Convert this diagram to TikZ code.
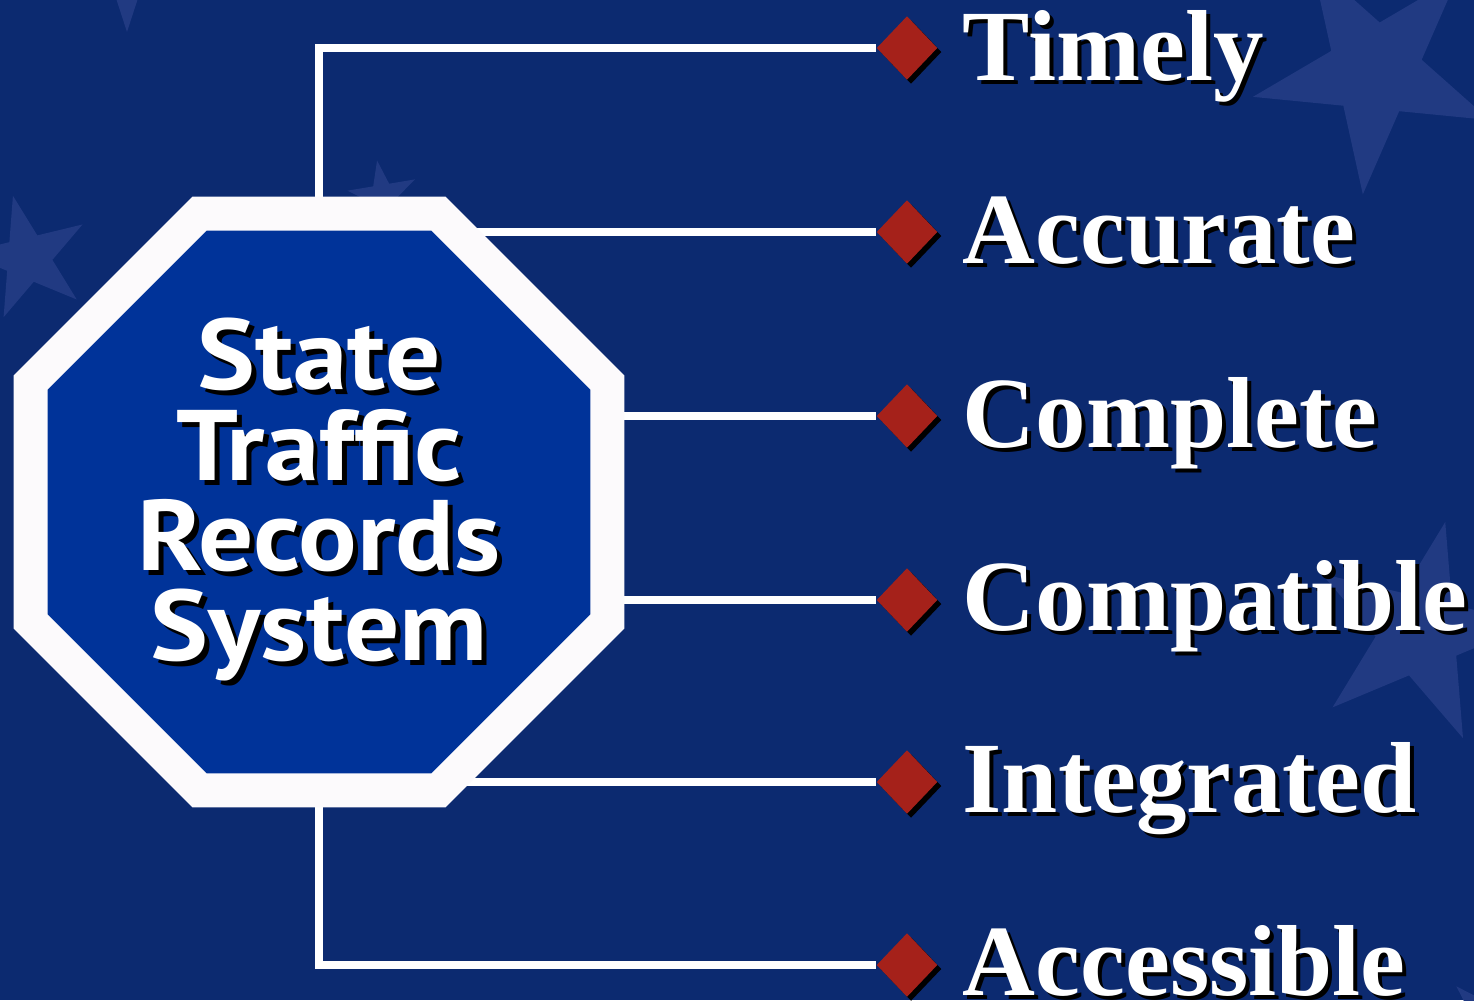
\documentclass[tikz,border=0pt]{standalone}
\usepackage{fontspec}
\usetikzlibrary{shapes.geometric,shadows}
\newfontfamily\timesbold{Liberation Serif}
\newfontfamily\signfont[FakeStretch=1.09]{PT Sans}
\definecolor{bgblue}{RGB}{12,42,112}
\definecolor{starblue}{RGB}{33,58,130}
\definecolor{octblue}{RGB}{0,51,153}
\definecolor{ringwhite}{RGB}{252,250,252}
\definecolor{dotred}{RGB}{165,33,26}
\pgfdeclarelayer{bg}
\pgfdeclarelayer{wires}
\pgfsetlayers{bg,wires,main}
\newcommand{\shadowed}[2][0.04cm]{\leavevmode\rlap{\kern#1\raisebox{-#1}{\color{black}#2}}#2}
\newcommand{\flagstar}[3]{\fill[starblue,shift={(#1)}] (#3:#2)
  \foreach \k in {1,...,9}{ -- ({#3+36*\k}:{#2*(0.691+0.309*cos(180*\k))}) } -- cycle;}

\begin{document}
\begin{tikzpicture}[x=0.01cm,y=-0.01cm,
  wire/.style={draw=white,line width=0.075cm},
  bullet/.style={diamond,fill=dotred,minimum width=0.61cm,minimum height=0.64cm,inner sep=0pt,
    drop shadow={shadow xshift=0.04cm,shadow yshift=-0.04cm,fill=black,opacity=1}},
  quality/.style={anchor=base west,inner sep=0pt,text=white,
    font=\timesbold\bfseries\fontsize{28.7}{30}\selectfont},
  sign/.style={regular polygon,regular polygon sides=8,minimum size=6.24cm,inner sep=0pt,
    fill=octblue,draw=ringwhite,line width=0.34cm,text=white,align=center,
    font=\signfont\bfseries\fontsize{28.5}{25.6}\selectfont}]
\useasboundingbox (0,0) rectangle (1474,1000);
\begin{pgfonlayer}{bg}
\fill[bgblue] (0,0) rectangle (1474,1000);
\begin{scope}
\clip (0,0) rectangle (1474,1000);
\flagstar{1375,70}{125}{95.6}
\flagstar{1419,633}{114}{67.3}
\flagstar{28,258}{64}{256.4}
\flagstar{383,196}{36}{260.5}
\flagstar{127,-28}{60}{90}
\flagstar{1520,1050}{90}{225}
\end{scope}
\end{pgfonlayer}

\node[sign] (trs) at (319,502) {\shadowed[0.05cm]{State}\\\shadowed[0.05cm]{Traffic}\\
  \shadowed[0.05cm]{Records}\\\shadowed[0.05cm]{System}};

\node[bullet] (d1) at (907,48) {};
\node[bullet] (d2) at (907,232) {};
\node[bullet] (d3) at (907,416) {};
\node[bullet] (d4) at (907,600) {};
\node[bullet] (d5) at (907,782) {};
\node[bullet] (d6) at (907,965) {};

\node[quality] (q1) at (962,80) {\shadowed{Timely}};
\node[quality] (q2) at (962,263) {\shadowed{Accurate}};
\node[quality] (q3) at (962,447) {\shadowed{Complete}};
\node[quality] (q4) at (962,630) {\shadowed{Compatible}};
\node[quality] (q5) at (962,812) {\shadowed{Integrated}};
\node[quality] (q6) at (962,995) {\shadowed{Accessible}};

\begin{pgfonlayer}{wires}
\draw[wire] (d1.west) -| (trs.center);
\draw[wire] (d2.west) -- (d2.west -| trs.center);
\draw[wire] (d3.west) -- (d3.west -| trs.center);
\draw[wire] (d4.west) -- (d4.west -| trs.center);
\draw[wire] (d5.west) -- (d5.west -| trs.center);
\draw[wire] (d6.west) -| (trs.center);
\end{pgfonlayer}
\end{tikzpicture}
\end{document}
